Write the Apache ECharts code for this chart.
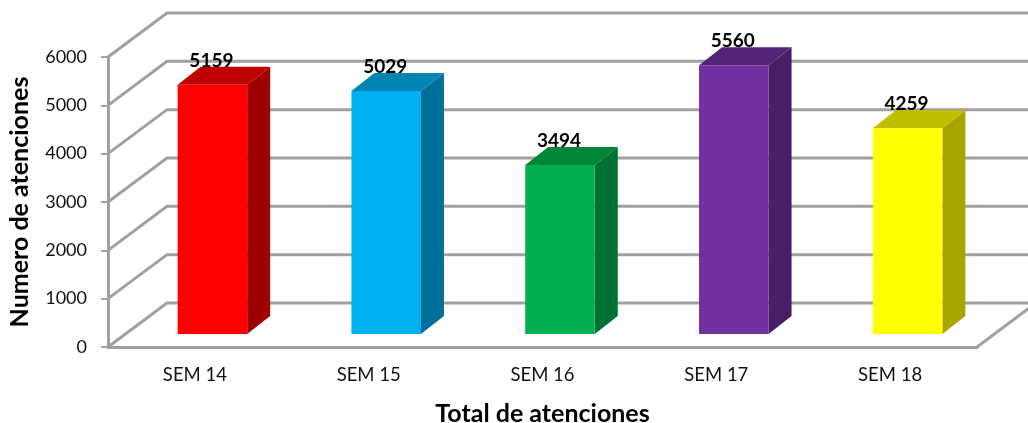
<!DOCTYPE html>
<html>
<head>
<meta charset="utf-8">
<title>Total de atenciones</title>
<script src="https://cdn.jsdelivr.net/npm/echarts@6/dist/echarts.min.js"></script>
<style>
    html, body { margin: 0; padding: 0; background: #fff; }
    #main { width: 1028px; height: 423px; }
</style>
</head>
<body>
<div id="main"></div>
<script>
// categories and values
var semanas = ['SEM 14', 'SEM 15', 'SEM 16', 'SEM 17', 'SEM 18'];
var atenciones = [5159, 5029, 3494, 5560, 4259];
var yTicks = [0, 1000, 2000, 3000, 4000, 5000, 6000];

// bar faces: front, top, side
var frontColors = ['#ff0000', '#00b0f0', '#00b050', '#7030a0', '#ffff00'];
var topColors = ['#bf0000', '#0084b4', '#008438', '#542478', '#bfbf00'];
var sideColors = ['#a00000', '#00709a', '#007033', '#471f66', '#a6a600'];

// fake 3D depth in pixels
var wallDx = 59, wallDy = 44;
var barGapDx = 17.5, barGapDy = 13;
var barDx = 23, barDy = 18;
var gridColor = '#a0a0a0';
var fontName = 'Lato, "Noto Sans", sans-serif';

// walls and floor behind the bars
function renderWall(params, api) {
    var cs = params.coordSys;
    var y = api.coord([0, api.value(1)])[1];
    var right = cs.x + cs.width;
    var children = [{
        type: 'polyline',
        shape: { points: [[cs.x, y], [cs.x + wallDx, y - wallDy], [right + wallDx, y - wallDy]] },
        style: { fill: null, stroke: gridColor, lineWidth: 3 }
    }];
    // right edge of the floor
    if (api.value(1) === 0) {
        children.push({
            type: 'line',
            shape: { x1: right, y1: y, x2: right + wallDx, y2: y - wallDy },
            style: { stroke: gridColor, lineWidth: 3 }
        });
    }
    return { type: 'group', children: children };
}

function renderBar(params, api) {
    var i = api.value(0);
    var top = api.coord([i, api.value(1)]);
    var base = api.coord([i, 0]);
    var w = api.size([1, 0])[0] * 0.4;
    var x0 = top[0] + barGapDx - w / 2;
    var x1 = x0 + w;
    var y0 = top[1] - barGapDy;
    var y1 = base[1] - barGapDy;
    return {
        type: 'group',
        children: [{
            type: 'polygon',
            shape: { points: [[x1, y0], [x1 + barDx, y0 - barDy], [x1 + barDx, y1 - barDy], [x1, y1]] },
            style: { fill: sideColors[i] }
        }, {
            type: 'polygon',
            shape: { points: [[x0, y0], [x0 + barDx, y0 - barDy], [x1 + barDx, y0 - barDy], [x1, y0]] },
            style: { fill: topColors[i] }
        }, {
            type: 'rect',
            shape: { x: x0, y: y0, width: w, height: y1 - y0 },
            style: { fill: frontColors[i] }
        }, {
            type: 'text',
            style: {
                text: String(api.value(1)),
                x: x0 + w / 2 - 1,
                y: y0 - barDy - 6,
                align: 'center',
                verticalAlign: 'middle',
                fill: '#000',
                font: 'bold 19px ' + fontName
            }
        }]
    };
}

var myChart = echarts.init(document.getElementById('main'), null, { renderer: 'canvas' });

var option = {
    animation: false,
    grid: { left: 108, right: 51, top: 57, bottom: 76, containLabel: false, outerBoundsMode: 'none' },
    xAxis: {
        type: 'category',
        data: semanas,
        name: 'Total de atenciones',
        nameLocation: 'middle',
        nameGap: 54,
        nameTextStyle: { color: '#000', fontSize: 25, fontWeight: 'bold', fontFamily: fontName },
        axisLine: { lineStyle: { color: gridColor, width: 3 } },
        axisTick: { show: false },
        axisLabel: { color: '#111', fontSize: 18.5, margin: 19, fontFamily: fontName },
        splitLine: { show: false }
    },
    yAxis: {
        type: 'value',
        min: 0,
        max: 6000,
        interval: 1000,
        name: 'Numero de atenciones',
        nameLocation: 'middle',
        nameGap: 76,
        nameTextStyle: { color: '#000', fontSize: 25, fontWeight: 'bold', fontFamily: fontName },
        axisLine: { show: true, lineStyle: { color: gridColor, width: 3 } },
        axisTick: { show: true, length: 7, lineStyle: { color: gridColor, width: 2 } },
        axisLabel: {
            color: '#111',
            fontSize: 18,
            margin: 21,
            fontFamily: fontName,
            formatter: function (v) { return String(v); }
        },
        splitLine: { show: false }
    },
    series: [{
        type: 'custom',
        name: 'paredes',
        z: 1,
        silent: true,
        renderItem: renderWall,
        data: yTicks.map(function (v) { return [0, v]; })
    }, {
        type: 'custom',
        name: 'Total de atenciones',
        z: 3,
        renderItem: renderBar,
        encode: { x: 0, y: 1 },
        data: atenciones.map(function (v, i) { return [i, v]; })
    }]
};

myChart.setOption(option);
</script>
</body>
</html>
